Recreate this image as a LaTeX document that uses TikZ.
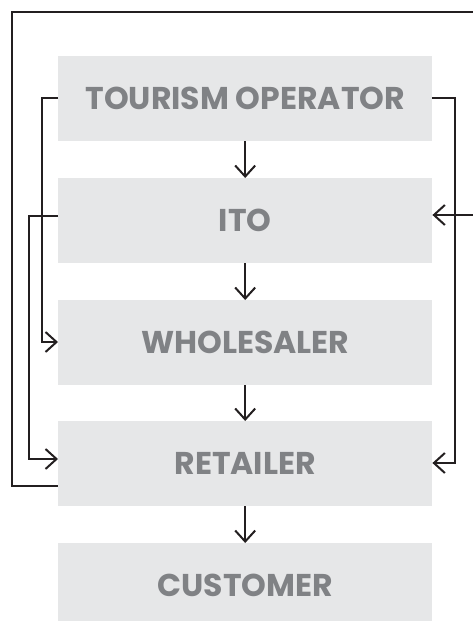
\documentclass[tikz,border=0pt]{standalone}
\usepackage{fontspec}
\setmainfont{Poppins}
\usetikzlibrary{arrows.meta}
\definecolor{boxfill}{HTML}{E6E7E8}
\definecolor{boxtext}{HTML}{808285}
\definecolor{linecol}{HTML}{231F20}
\begin{document}
\begin{tikzpicture}[x=1pt,y=-1pt,
  stage/.style={fill=boxfill, draw=none, minimum width=374pt, minimum height=85pt,
    inner sep=0pt, text=boxtext, font=\fontsize{31.5}{31.5}\selectfont\bfseries, anchor=north west},
  flow/.style={draw=linecol, line width=2pt, -{Straight Barb[length=11pt,width=20pt,line width=2pt]}}]
\useasboundingbox (0,0) rectangle (473,621);
\node[stage] (op) at (58,56) {TOURISM OPERATOR};
\node[stage] (ito) at (58,178) {ITO};
\node[stage] (wh) at (58,300) {WHOLESALER};
\node[stage] (ret) at (58,421) {RETAILER};
\node[stage] (cu) at (58,543) {CUSTOMER};
\draw[flow] (op.south) -- (ito.north);
\draw[flow] (ito.south) -- (wh.north);
\draw[flow] (wh.south) -- (ret.north);
\draw[flow] (ret.south) -- (cu.north);
% tourism operator left -> wholesaler
\coordinate (opL) at (op.west |- 0,98);
\coordinate (whL) at (wh.west |- 0,342);
\draw[flow] (opL) -- (42,98) -- (42,342) -- (whL);
% tourism operator right -> retailer
\coordinate (opR) at (op.east |- 0,98);
\coordinate (retR) at (ret.east |- 0,463);
\draw[flow] (opR) -- (455,98) -- (455,463) -- (retR);
% ito left -> retailer
\coordinate (itoL) at (ito.west |- 0,216);
\coordinate (retL1) at (ret.west |- 0,459);
\draw[flow] (itoL) -- (29,216) -- (29,459) -- (retL1);
% outer loop: retailer -> ito
\coordinate (retL2) at (ret.west |- 0,486);
\coordinate (itoR) at (ito.east |- 0,215);
\draw[flow, {Straight Barb[length=11pt,width=20pt,line width=2pt]}-] (itoR) -- (480,215) -- (480,12) -- (12,12) -- (12,486) -- (retL2);
\end{tikzpicture}
\end{document}
